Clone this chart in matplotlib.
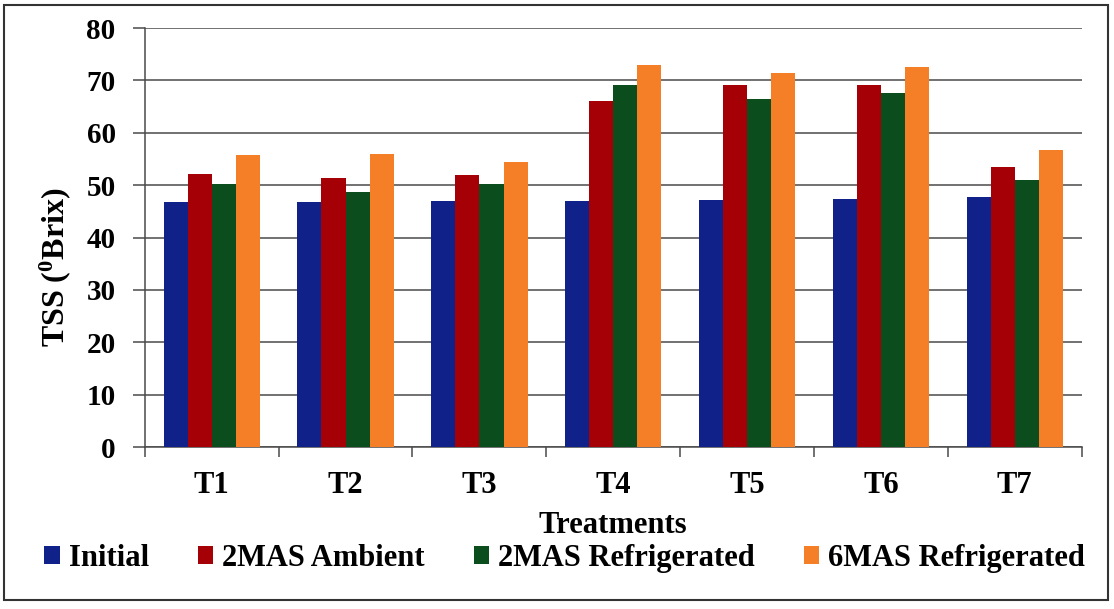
import matplotlib
matplotlib.use("Agg")
import matplotlib.pyplot as plt
import numpy as np
from matplotlib.patches import Rectangle

treatments = ["T1", "T2", "T3", "T4", "T5", "T6", "T7"]
initial = [46.7, 46.8, 47.0, 47.0, 47.2, 47.4, 47.7]
mas2_ambient = [52.2, 51.3, 51.9, 66.0, 69.1, 69.2, 53.4]
mas2_refrigerated = [50.3, 48.6, 50.2, 69.2, 66.5, 67.6, 51.0]
mas6_refrigerated = [55.8, 56.0, 54.5, 73.0, 71.4, 72.6, 56.8]

series_names = ["Initial", "2MAS Ambient", "2MAS Refrigerated", "6MAS Refrigerated"]
series_values = [initial, mas2_ambient, mas2_refrigerated, mas6_refrigerated]
series_colors = ["#10228A", "#A50006", "#0B4D1C", "#F47F26"]

plt.rcParams["font.family"] = ["Liberation Serif", "DejaVu Serif"]
plt.rcParams["font.weight"] = "bold"
plt.rcParams["mathtext.fontset"] = "custom"
plt.rcParams["mathtext.rm"] = "Liberation Serif:bold"
plt.rcParams["mathtext.it"] = "Liberation Serif:bold"
plt.rcParams["mathtext.bf"] = "Liberation Serif:bold"

fig = plt.figure(figsize=(11.14, 6.09), dpi=100)
ax = fig.add_axes([0.130, 0.266, 0.841, 0.688])

x = np.arange(len(treatments))
width = 0.18
offsets = (np.arange(4) - 1.5) * width
for name, vals, col, off in zip(series_names, series_values, series_colors, offsets):
    ax.bar(x + off, vals, width=width, color=col, label=name, zorder=3)

ax.set_xlim(-0.5, len(treatments) - 0.5)
ax.set_ylim(0, 80)
ax.set_yticks(np.arange(0, 81, 10))
ax.yaxis.grid(True, color="#4a4a4a", linewidth=1.1, zorder=0)
ax.set_axisbelow(True)

ax.set_xticks(x)
ax.set_xticklabels(treatments, fontsize=22, fontweight="bold")
ax.tick_params(axis="x", which="major", length=0, pad=17)
ax.set_xticks(np.arange(-0.5, len(treatments), 1.0), minor=True)
ax.tick_params(axis="x", which="minor", length=7, width=1.1, color="#4a4a4a", direction="out")
ax.tick_params(axis="y", length=9, width=1.1, color="#4a4a4a", labelsize=21, pad=12)
for lbl in ax.get_yticklabels():
    lbl.set_fontweight("bold")

for side in ["top", "right"]:
    ax.spines[side].set_visible(False)
for side in ["left", "bottom"]:
    ax.spines[side].set_color("#4a4a4a")
    ax.spines[side].set_linewidth(1.1)

ax.set_ylabel(r"TSS $\mathrm{(}^{0}$Brix)", fontsize=23, fontweight="bold")
ax.yaxis.set_label_coords(-0.077, 0.43)
ax.set_xlabel("Treatments", fontsize=22, fontweight="bold", labelpad=8)

fig.legend(loc="center", bbox_to_anchor=(0.507, 0.083), ncol=4, frameon=False,
           prop={"weight": "bold", "size": 22},
           handlelength=0.5, handleheight=0.55, handletextpad=0.3,
           columnspacing=1.6)

fig.patches.append(Rectangle((0.004, 0.014), 0.991, 0.978, transform=fig.transFigure,
                             fill=False, edgecolor="#333333", linewidth=1.5))

fig.savefig("out.png", dpi=100, facecolor="white")
